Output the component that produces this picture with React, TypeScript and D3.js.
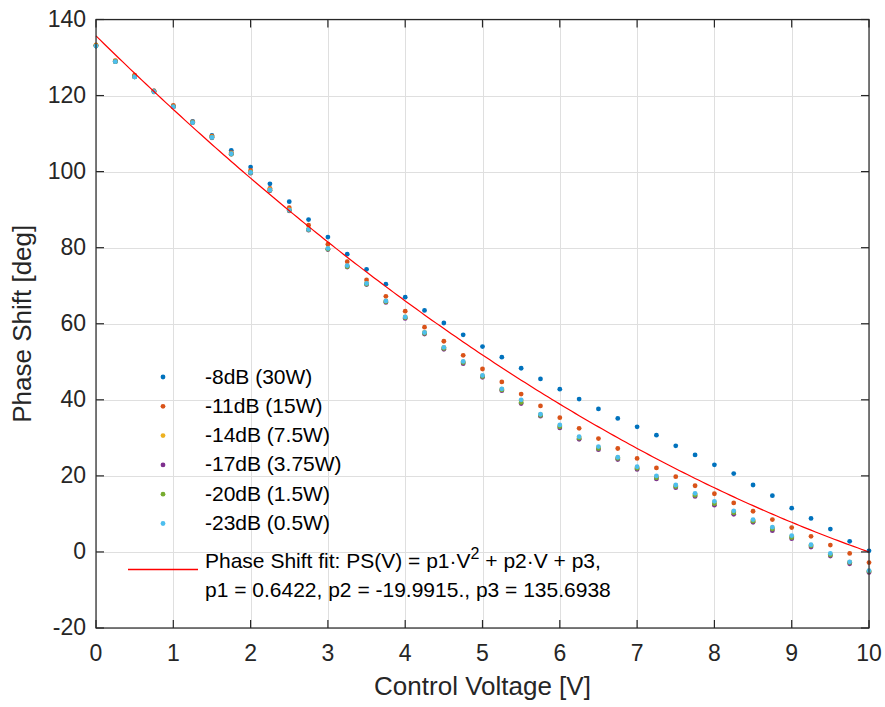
import React, { useEffect, useRef } from 'react';
import * as d3 from 'd3';

const WIDTH = 885;
const HEIGHT = 707;

const voltages = [0, 0.25, 0.5, 0.75, 1, 1.25, 1.5, 1.75, 2, 2.25, 2.5, 2.75, 3, 3.25, 3.5, 3.75, 4, 4.25, 4.5, 4.75, 5, 5.25, 5.5, 5.75, 6, 6.25, 6.5, 6.75, 7, 7.25, 7.5, 7.75, 8, 8.25, 8.5, 8.75, 9, 9.25, 9.5, 9.75, 10];

const ps8dB = [133.2, 129.0, 125.2, 121.2, 117.2, 113.2, 109.5, 105.6, 101.2, 96.8, 92.1, 87.4, 82.8, 78.3, 74.3, 70.4, 67.0, 63.5, 60.2, 57.1, 54.0, 51.2, 48.3, 45.5, 42.8, 40.2, 37.6, 35.1, 32.9, 30.7, 27.9, 25.5, 22.9, 20.6, 17.6, 14.8, 11.5, 8.8, 6.0, 2.8, 0.3];
const ps11dB = [133.3, 129.2, 125.4, 121.2, 117.4, 113.1, 109.3, 105.0, 100.3, 95.6, 90.5, 85.9, 80.9, 76.3, 71.5, 67.2, 63.3, 59.1, 55.4, 51.7, 48.1, 44.7, 41.5, 38.4, 35.3, 32.5, 29.8, 27.2, 24.6, 22.1, 19.8, 17.4, 15.3, 12.9, 10.7, 8.5, 6.4, 4.1, 1.8, -0.4, -2.8];
const ps14dB = [133.2, 129.1, 125.1, 121.1, 117.1, 113.0, 109.1, 104.8, 99.9, 95.3, 90.0, 84.9, 79.8, 75.2, 70.6, 66.0, 61.8, 57.7, 53.8, 50.0, 46.3, 42.8, 39.8, 36.1, 33.2, 30.2, 27.5, 24.8, 22.2, 19.8, 17.5, 15.2, 13.1, 10.6, 8.3, 6.3, 4.1, 1.8, -0.6, -2.7, -5.0];
const ps17dB = [133.0, 128.9, 124.9, 121.0, 117.0, 112.9, 108.9, 104.6, 99.6, 95.0, 89.7, 84.6, 79.5, 74.9, 70.3, 65.6, 61.4, 57.3, 53.3, 49.5, 45.9, 42.4, 39.0, 35.7, 32.6, 29.6, 26.9, 24.3, 21.7, 19.2, 16.9, 14.6, 12.3, 9.9, 7.8, 5.6, 3.5, 1.3, -1.1, -3.1, -5.4];
const ps20dB = [133.0, 128.9, 124.9, 121.0, 117.0, 112.9, 109.0, 104.6, 99.7, 95.1, 89.8, 84.7, 79.6, 75.0, 70.4, 65.8, 61.6, 57.5, 53.5, 49.8, 46.1, 42.6, 39.3, 35.9, 32.9, 29.9, 27.2, 24.6, 22.0, 19.5, 17.2, 14.9, 12.7, 10.3, 8.1, 6.0, 3.8, 1.6, -0.8, -2.8, -5.1];
const ps23dB = [133.0, 128.9, 124.9, 121.0, 117.0, 112.9, 109.0, 104.7, 99.8, 95.2, 89.9, 84.8, 79.8, 75.3, 70.6, 66.0, 61.8, 57.7, 53.8, 50.1, 46.4, 42.9, 40.0, 36.2, 33.4, 30.3, 27.7, 24.9, 22.4, 20.0, 17.6, 15.4, 13.3, 10.8, 8.5, 6.5, 4.3, 1.9, -0.4, -2.6, -4.9];

const seriesNames = ['-8dB (30W)', '-11dB (15W)', '-14dB (7.5W)', '-17dB (3.75W)', '-20dB (1.5W)', '-23dB (0.5W)'];
const seriesValues = [ps8dB, ps11dB, ps14dB, ps17dB, ps20dB, ps23dB];
const seriesColors = ['#0072BD', '#D95319', '#EDB120', '#7E2F8E', '#77AC30', '#4DBEEE'];

// quadratic fit coefficients shown in the legend
const fitCoeffs = { p1: 0.6422, p2: -19.9915, p3: 135.6938 };

const xTicks = [0, 1, 2, 3, 4, 5, 6, 7, 8, 9, 10];
const yTicks = [-20, 0, 20, 40, 60, 80, 100, 120, 140];

const FONT = 'Liberation Sans, Arial, Helvetica, sans-serif';
const FIT_RED = '#ff0000';

function App() {
  const svgRef = useRef<SVGSVGElement | null>(null);

  useEffect(() => {
    const svg = d3.select(svgRef.current);
    svg.selectAll('*').remove();

    const left = 96, right = 869, top = 19.5, bottom = 628;
    const x = d3.scaleLinear().domain([0, 10]).range([left, right]);
    const y = d3.scaleLinear().domain([-20, 140]).range([bottom, top]);

    svg.append('rect').attr('width', WIDTH).attr('height', HEIGHT).attr('fill', '#fff');

    // grid
    const grid = svg.append('g').attr('stroke', '#dfdfdf').attr('stroke-width', 1);
    xTicks.forEach(t => {
      grid.append('line')
        .attr('x1', Math.round(x(t)) + 0.5).attr('x2', Math.round(x(t)) + 0.5)
        .attr('y1', top).attr('y2', bottom);
    });
    yTicks.forEach(t => {
      grid.append('line')
        .attr('x1', left).attr('x2', right)
        .attr('y1', Math.round(y(t)) + 0.5).attr('y2', Math.round(y(t)) + 0.5);
    });

    // data points
    seriesValues.forEach((vals, si) => {
      svg.append('g').selectAll('circle')
        .data(vals)
        .enter()
        .append('circle')
        .attr('cx', (d, i) => x(voltages[i]))
        .attr('cy', d => y(d))
        .attr('r', 2.4)
        .attr('fill', seriesColors[si]);
    });

    // fit curve
    const fitXs = d3.range(0, 10.0001, 0.05);
    const line = d3.line<number>()
      .x(v => x(v))
      .y(v => y(fitCoeffs.p1 * v * v + fitCoeffs.p2 * v + fitCoeffs.p3));
    svg.append('path')
      .attr('d', line(fitXs))
      .attr('fill', 'none')
      .attr('stroke', FIT_RED)
      .attr('stroke-width', 1.2);

    // box + ticks
    const axisColor = '#262626';
    svg.append('rect')
      .attr('x', left).attr('y', top)
      .attr('width', right - left).attr('height', bottom - top)
      .attr('fill', 'none').attr('stroke', axisColor).attr('stroke-width', 1.2);

    const tickLen = 8;
    const ticks = svg.append('g').attr('stroke', axisColor).attr('stroke-width', 1.2);
    xTicks.forEach(t => {
      ticks.append('line').attr('x1', x(t)).attr('x2', x(t)).attr('y1', bottom).attr('y2', bottom - tickLen);
      ticks.append('line').attr('x1', x(t)).attr('x2', x(t)).attr('y1', top).attr('y2', top + tickLen);
    });
    yTicks.forEach(t => {
      ticks.append('line').attr('x1', left).attr('x2', left + tickLen).attr('y1', y(t)).attr('y2', y(t));
      ticks.append('line').attr('x1', right).attr('x2', right - tickLen).attr('y1', y(t)).attr('y2', y(t));
    });

    // tick labels
    svg.append('g').selectAll('text')
      .data(xTicks)
      .enter()
      .append('text')
      .attr('x', d => x(d))
      .attr('y', bottom + 27)
      .attr('text-anchor', 'middle')
      .attr('dominant-baseline', 'middle')
      .attr('font-family', FONT)
      .attr('font-size', '23px')
      .attr('fill', axisColor)
      .text(d => d);

    svg.append('g').selectAll('text')
      .data(yTicks)
      .enter()
      .append('text')
      .attr('x', left - 10)
      .attr('y', d => y(d) + 1)
      .attr('text-anchor', 'end')
      .attr('dominant-baseline', 'middle')
      .attr('font-family', FONT)
      .attr('font-size', '23px')
      .attr('fill', axisColor)
      .text(d => d);

    // axis labels
    svg.append('text')
      .attr('x', (left + right) / 2)
      .attr('y', 688)
      .attr('text-anchor', 'middle')
      .attr('dominant-baseline', 'middle')
      .attr('font-family', FONT)
      .attr('font-size', '26px')
      .attr('fill', axisColor)
      .text('Control Voltage [V]');

    svg.append('text')
      .attr('transform', `translate(24, ${(top + bottom) / 2}) rotate(-90)`)
      .attr('text-anchor', 'middle')
      .attr('dominant-baseline', 'middle')
      .attr('font-family', FONT)
      .attr('font-size', '26px')
      .attr('fill', axisColor)
      .text('Phase Shift [deg]');

    // legend (no box)
    const legend = svg.append('g');
    const rowY0 = 377, rowH = 29.3;
    seriesNames.forEach((name, i) => {
      const ry = rowY0 + i * rowH;
      legend.append('circle').attr('cx', 163).attr('cy', ry).attr('r', 2.4).attr('fill', seriesColors[i]);
      legend.append('text')
        .attr('x', 205).attr('y', ry + 1)
        .attr('dominant-baseline', 'middle')
        .attr('font-family', FONT)
        .attr('font-size', '21px')
        .attr('fill', '#000')
        .text(name);
    });

    legend.append('path')
      .attr('d', 'M128,569.5L198,569.5')
      .attr('fill', 'none')
      .style('stroke', FIT_RED)
      .style('stroke-width', '1.3px');

    const fitText = legend.append('text')
      .attr('x', 205).attr('y', 567.5)
      .attr('font-family', FONT)
      .attr('font-size', '21px')
      .attr('fill', '#000');
    fitText.append('tspan').text('Phase Shift fit: PS(V) = p1\u00B7V');
    fitText.append('tspan').attr('dy', -9).attr('font-size', '16px').text('2');
    fitText.append('tspan').attr('dy', 9).text(' + p2\u00B7V + p3,');

    legend.append('text')
      .attr('x', 205).attr('y', 597)
      .attr('font-family', FONT)
      .attr('font-size', '21px')
      .attr('fill', '#000')
      .text(`p1 = ${fitCoeffs.p1}, p2 = ${fitCoeffs.p2}., p3 = ${fitCoeffs.p3}`);
  }, []);

  return (
    <svg
      ref={svgRef}
      width={WIDTH}
      height={HEIGHT}
      style={{ position: 'absolute', left: 0, top: 0, display: 'block' }}
    />
  );
}

export default App;
